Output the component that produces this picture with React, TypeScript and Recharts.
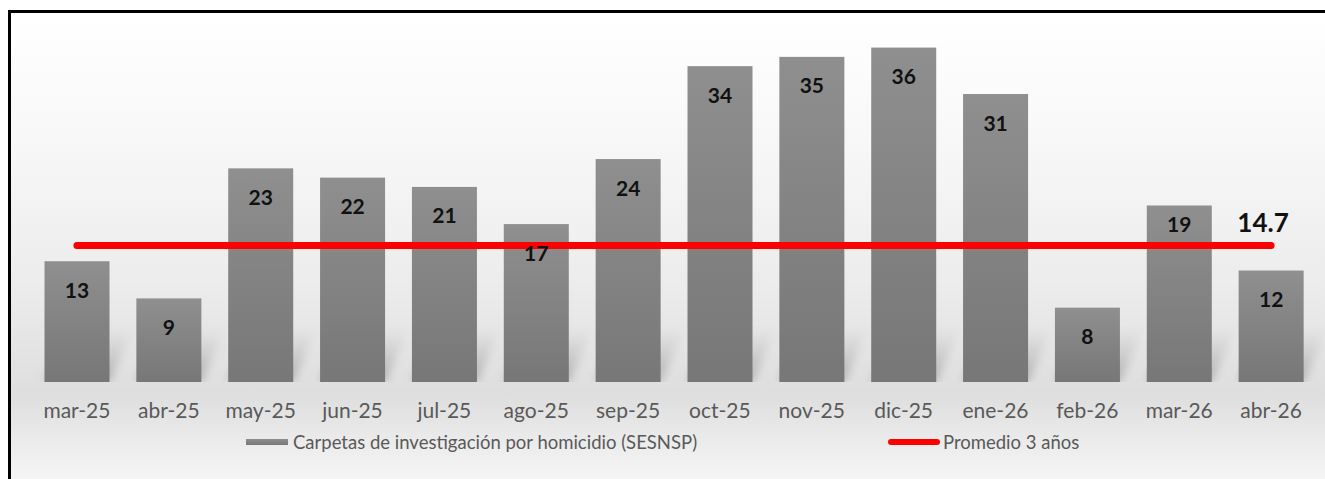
import { ComposedChart, Bar, Line, XAxis, YAxis, Legend, LabelList } from "recharts";

const months = [
  "mar-25", "abr-25", "may-25", "jun-25", "jul-25", "ago-25", "sep-25",
  "oct-25", "nov-25", "dic-25", "ene-26", "feb-26", "mar-26", "abr-26",
];
const carpetas = [13, 9, 23, 22, 21, 17, 24, 34, 35, 36, 31, 8, 19, 12];
const promedio = [14.7, 14.7, 14.7, 14.7, 14.7, 14.7, 14.7, 14.7, 14.7, 14.7, 14.7, 14.7, 14.7, 14.7];

const BAR_NAME = "Carpetas de investigación por homicidio (SESNSP)";
const LINE_NAME = "Promedio 3 años";
const FONT = "Lato, sans-serif";
const TEXT_GRAY = "#595959";

const data = months.map((m, i) => ({ month: m, carpetas: carpetas[i], promedio: promedio[i] }));

// en mar-26 la etiqueta se subió a mano para no tapar la línea
const LABEL_NUDGE: Record<number, number> = { 12: -10 };

const BarValue = (props: any) => {
  const { x, y, width, value, index } = props;
  return (
    <text
      x={x + width / 2}
      y={y + 28 + (LABEL_NUDGE[index] ?? 0)}
      textAnchor="middle"
      dominantBaseline="central"
      fontFamily={FONT}
      fontWeight="bold"
      fontSize={21}
      fill="#111"
    >
      {value}
    </text>
  );
};

// solo el último punto de la línea lleva el valor
const AvgValue = (props: any) => {
  const { x, y, value, index } = props;
  if (index !== promedio.length - 1) return null;
  return (
    <text
      x={x - 8}
      y={y - 23}
      textAnchor="middle"
      dominantBaseline="central"
      fontFamily={FONT}
      fontWeight="bold"
      fontSize={26}
      fill="#111"
    >
      {value}
    </text>
  );
};

// barra con sombra difusa detrás, como el estilo de Excel
const ShadowBar = (props: any) => {
  const { x, y, width, height } = props;
  const bottom = y + height;
  const sh = Math.min(height, 55);
  const dx = 24;
  return (
    <g>
      <path
        d={`M${x},${bottom} L${x + width},${bottom} L${x + width + dx},${bottom - sh} L${x + dx},${bottom - sh} Z`}
        fill="url(#shadowFill)"
        filter="url(#blurShadow)"
      />
      <rect x={x} y={y} width={width} height={height} fill="url(#barFill)" />
    </g>
  );
};

const LegendBox = () => (
  <div style={{ position: "relative", height: 24, fontFamily: FONT, fontSize: 18.5, color: TEXT_GRAY }}>
    <div style={{ position: "absolute", left: 235, top: 9, width: 42, height: 6, background: "linear-gradient(#8e8e8e, #777)" }} />
    <div style={{ position: "absolute", left: 282, top: 0, lineHeight: "24px", whiteSpace: "nowrap" }}>{BAR_NAME}</div>
    <div style={{ position: "absolute", left: 877, top: 9, width: 52, height: 6, borderRadius: 3, background: "#ff0000" }} />
    <div style={{ position: "absolute", left: 932, top: 0, lineHeight: "24px", whiteSpace: "nowrap" }}>{LINE_NAME}</div>
  </div>
);

export default function App() {
  return (
    <div
      style={{
        position: "absolute",
        left: 8,
        top: 10,
        width: 1340,
        height: 490,
        border: "3px solid #000",
        background:
          "linear-gradient(to bottom, #ffffff 0%, #f8f8f8 25%, #ececec 55%, #dedede 78%, #ececec 88%, #fbfbfb 100%)",
      }}
    >
      <ComposedChart
        width={1314}
        height={466}
        data={data}
        margin={{ top: 16, right: 8, left: 20, bottom: 25 }}
        barCategoryGap="14.7%"
      >
        <defs>
          <linearGradient id="barFill" x1="0" y1="0" x2="0" y2="1">
            <stop offset="0%" stopColor="#8f8f8f" />
            <stop offset="100%" stopColor="#777777" />
          </linearGradient>
          <linearGradient id="shadowFill" x1="0" y1="1" x2="0" y2="0">
            <stop offset="0%" stopColor="#9a9a9a" stopOpacity={0.8} />
            <stop offset="100%" stopColor="#bdbdbd" stopOpacity={0} />
          </linearGradient>
          <filter id="blurShadow" x="-50%" y="-50%" width="200%" height="200%">
            <feGaussianBlur stdDeviation="5" />
          </filter>
        </defs>
        <XAxis
          dataKey="month"
          axisLine={false}
          tickLine={false}
          tickSize={0}
          tickMargin={21}
          height={48}
          interval={0}
          tick={{ fill: TEXT_GRAY, fontSize: 21, fontFamily: FONT }}
        />
        <YAxis hide domain={[0, 38]} allowDataOverflow />
        <Legend
          verticalAlign="bottom"
          height={24}
          wrapperStyle={{ left: 0, width: 1314 }}
          content={() => <LegendBox />}
        />
        <Bar dataKey="carpetas" name={BAR_NAME} fill="url(#barFill)" shape={<ShadowBar />} isAnimationActive={false}>
          <LabelList dataKey="carpetas" content={<BarValue />} />
        </Bar>
        <Line
          type="linear"
          dataKey="promedio"
          name={LINE_NAME}
          stroke="#ff0000"
          strokeWidth={7}
          strokeLinecap="round"
          dot={false}
          activeDot={false}
          isAnimationActive={false}
        >
          <LabelList dataKey="promedio" content={<AvgValue />} />
        </Line>
      </ComposedChart>
    </div>
  );
}
